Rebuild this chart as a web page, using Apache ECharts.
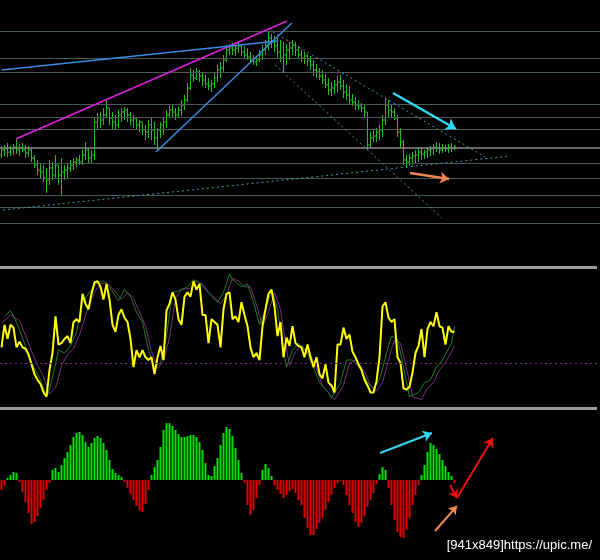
<!DOCTYPE html>
<html><head><meta charset="utf-8">
<script src="https://cdn.jsdelivr.net/npm/echarts@6/dist/echarts.min.js"></script>
<style>html,body{margin:0;padding:0;background:#000}#c{width:600px;height:560px}</style>
</head><body><div id="c"></div>
<script>
// ---------- price bars (arbitrary price points) ----------
const opens=[105,110,112,108,111,113,110,112,110,107,
110,102,95,90,88,82,80,92,85,95,
85,88,90,92,95,98,100,98,105,110,
102,105,138,142,140,145,152,142,138,135,
145,148,150,145,140,142,135,138,130,128,
135,130,122,130,135,138,145,150,148,145,
150,155,160,172,185,182,188,184,180,176,
174,176,182,190,192,200,210,212,210,212,
214,208,205,203,200,198,200,205,210,215,
222,218,214,208,202,205,210,212,215,210,
205,202,204,200,195,190,188,184,180,175,
170,172,175,178,174,168,165,160,158,155,
154,152,148,115,122,124,128,130,140,155,
150,148,142,128,118,100,98,102,104,105,
108,106,108,110,111,113,112,110,112,111,
113,112];
const highs=[114,115,117,114,116,120,116,117,115,114,
112,105,100,97,95,92,100,98,105,95,
102,95,97,100,102,103,105,110,118,112,
110,142,147,148,152,160,152,148,145,150,
152,153,152,148,145,143,140,138,135,140,
143,138,132,138,142,150,154,155,152,153,
160,165,177,192,190,192,190,188,185,182,
180,188,195,198,205,215,216,217,215,218,
216,214,212,208,205,204,210,215,220,229,
226,224,222,220,218,216,218,220,218,214,
210,208,206,204,200,196,192,190,186,182,
178,180,184,185,180,176,174,166,163,160,
157,156,148,128,130,132,135,145,162,160,
155,152,145,132,120,105,106,108,110,111,
113,110,113,114,116,118,117,116,115,116,
117,115];
const lows=[102,104,103,104,105,106,104,108,102,103,
98,92,85,82,78,67,75,80,82,75,
65,80,82,88,90,93,95,95,100,97,
97,100,130,132,135,142,135,130,130,132,
138,140,138,135,132,130,128,125,120,122,
120,115,110,122,125,132,142,142,140,143,
144,150,158,170,178,180,178,174,172,170,
168,172,178,182,188,198,205,205,204,207,
204,202,200,197,195,194,198,200,205,210,
212,208,202,198,188,195,200,205,204,202,
198,196,194,190,184,182,180,176,172,165,
164,166,168,170,162,160,155,154,150,150,
148,143,110,112,118,118,120,123,135,142,
142,140,123,112,95,92,94,95,97,98,
100,101,102,104,105,108,106,107,108,107,
108,110];
const closes=[110,112,108,111,113,110,112,110,107,110,
102,95,90,88,82,80,92,85,95,85,
88,90,92,95,98,100,98,105,110,102,
105,138,142,140,145,152,142,138,135,145,
148,150,145,140,142,135,138,130,128,135,
130,122,130,135,138,145,150,148,145,150,
155,160,172,185,182,188,184,180,176,174,
176,182,190,192,200,210,212,210,212,214,
208,205,203,200,198,200,205,210,215,222,
218,214,208,202,205,210,212,215,210,205,
202,204,200,195,190,188,184,180,175,170,
172,175,178,174,168,165,160,158,155,154,
152,148,115,122,124,128,130,140,155,150,
148,142,128,118,100,98,102,104,105,108,
106,108,110,111,113,112,110,112,111,113,
112,114];

// horizontal levels (price)
const levels=[229,202,188,156,143,131,112,97,82,65,53,37];
const currentLevel=112;

// trend lines [barIndex, price]
const lineMagenta=[[4.8,121],[95.2,239]];
const lineBlueFlat=[[0,190],[92.2,219]];
const lineBlueSteep=[[51.5,108],[96.8,237]];
const dotLong=[[0.5,50],[169.5,104]];
const dotUpper=[[90.5,228],[161.2,103]];
const dotLower=[[91.2,195],[146.8,42]];
const arrowCyanPrice=[[130.5,167],[151.5,131]];
const arrowOrangePrice=[[136.2,87],[149.2,81]];

// ---------- oscillator ----------
const yellow=[43,59,49,59,57,43,47,43,42,38,
31,24,20,17,11,8,27,39,65,45,
46,49,51,46,61,63,61,81,74,70,
81,89,90,86,77,88,77,59,54,66,
70,64,61,49,29,41,36,41,36,34,
36,24,36,44,34,69,74,82,77,63,
59,79,82,79,90,84,88,66,66,46,
63,61,59,43,70,81,82,63,65,61,
75,66,58,43,36,39,34,58,70,81,
84,72,51,61,36,50,44,58,46,44,
43,36,45,36,29,36,24,21,31,18,
16,11,45,45,57,49,52,40,36,31,
27,20,16,11,11,19,36,72,75,64,
61,63,36,32,14,13,15,25,39,44,
56,36,56,61,58,68,58,57,45,58,
54,54];
const greenSig=[[1,65],[3,69],[5,61],[8,44],[10,32],[13,20],[15,8],[16,13],[18,31],[19,41],[21,39],[23,44],[25,54],[27,75],[30,84],[32,89],[34,90],[36,86],[39,76],[41,84],[43,79],[45,68],[47,61],[49,41],[51,29],[53,32],[55,51],[57,82],[59,83],[62,86],[64,91],[66,89],[68,84],[72,75],[74,82],[76,95],[77,91],[80,86],[82,88],[84,75],[86,59],[88,70],[90,84],[92,70],[94,41],[95,29],[97,41],[99,46],[102,39],[104,29],[106,18],[109,11],[110,7],[113,18],[115,34],[117,34],[120,27],[122,18],[124,14],[126,20],[129,44],[130,51],[132,49],[134,29],[136,8],[139,11],[141,18],[143,20],[145,29],[147,34],[150,46],[151,58]];
const purpleSig=[[0,60],[3,66],[6,62],[9,46],[11,35],[14,22],[16,10],[18,14],[20,30],[22,38],[24,42],[26,52],[29,72],[31,82],[33,88],[35,89],[37,85],[40,77],[42,82],[44,78],[46,68],[48,58],[50,40],[52,28],[54,33],[56,50],[58,78],[60,84],[63,85],[65,90],[67,88],[69,82],[73,74],[75,80],[77,92],[79,90],[81,86],[83,86],[85,73],[87,58],[89,68],[91,82],[93,70],[95,42],[96,30],[98,40],[100,44],[103,38],[105,28],[107,16],[110,8],[111,6],[114,16],[116,32],[118,34],[121,26],[123,16],[125,12],[127,18],[130,42],[131,48],[133,46],[135,28],[137,8],[140,6],[142,14],[144,18],[146,27],[148,32],[151,44]];
const oscMid=32;

// ---------- histogram ----------
const hist=[-10,-6,2,5,8,7,-2,-12,-22,-33,
-44,-42,-36,-28,-20,-10,-3,10,12,8,
15,22,28,35,43,47,48,45,38,33,
37,42,44,42,37,30,20,11,7,5,
3,-2,-8,-14,-20,-26,-31,-32,-24,-10,
5,13,20,33,50,57,57,54,50,46,
43,43,44,45,45,43,38,30,17,5,
4,14,22,35,47,53,51,44,32,20,
7,-3,-25,-35,-30,-18,-5,10,16,12,
4,-5,-10,-14,-18,-15,-11,-9,-13,-20,
-25,-38,-48,-55,-55,-49,-43,-38,-30,-22,
-15,-8,-3,-1,-5,-15,-25,-33,-42,-47,
-43,-36,-27,-20,-13,-4,6,13,10,-8,
-25,-40,-52,-57,-58,-50,-38,-25,-15,-5,
5,15,28,37,35,31,26,20,14,8,
4,-3];
const arrowCyanHist=[[126.2,27],[143.5,47]];
const arrowRedDown=[[149.5,-5],[151.8,-18]];
const arrowRedUp=[[151.8,-18],[163.8,42]];
const arrowOrangeHist=[[144.5,-51],[151.8,-26]];

// ---------- chart ----------
function seg(p,color,width,type,arrow,size){
  return [{coord:p[0],symbol:'none',lineStyle:{color:color,width:width,type:type}},
          {coord:p[1],symbol:arrow?'arrow':'none',symbolSize:size||9,lineStyle:{color:color,width:width,type:type},itemStyle:{color:color}}];
}
const ml=(data)=>({silent:true,symbol:['none','none'],label:{show:false},emphasis:{disabled:true},animation:false,data:data});

const chart=echarts.init(document.getElementById('c'));
const grids=[{left:0,right:0,top:0,height:260},{left:0,right:3,top:267,height:141},{left:0,right:0,top:410,height:150}];
const ohlc=opens.map((o,i)=>[i,o,highs[i],lows[i],closes[i]]);
const barColor='#22bb22';

chart.setOption({
  backgroundColor:'#000',
  animation:false,
  title:{text:'[941x849]https://upic.me/',right:3,bottom:3,textStyle:{color:'#fff',fontSize:13,fontWeight:'normal',fontFamily:'Liberation Sans'}},
  grid:grids,
  xAxis:[{type:'value',gridIndex:0,min:-0.5,max:199.5,show:false},
         {type:'value',gridIndex:1,min:-0.5,max:198.5,show:false},
         {type:'value',gridIndex:2,min:-0.5,max:199.5,show:false}],
  yAxis:[{type:'value',gridIndex:0,min:0,max:260,show:false},
         {type:'value',gridIndex:1,min:0,max:100,show:false},
         {type:'value',gridIndex:2,min:-80,max:70,show:false}],
  series:[
    {type:'line',xAxisIndex:0,yAxisIndex:0,data:[],z:1,
     markLine:ml(levels.map(v=>({yAxis:v,lineStyle:{color:v===currentLevel?'#8a8a8a':'#4a5a57',width:v===currentLevel?1.5:1,type:'solid'}})))},
    {type:'custom',xAxisIndex:0,yAxisIndex:0,z:3,data:ohlc,encode:{x:0,y:[1,2,3,4]},
     renderItem:function(params,api){
       const x=api.value(0);
       const pH=api.coord([x,api.value(2)]),pL=api.coord([x,api.value(3)]);
       const pO=api.coord([x,api.value(1)]),pC=api.coord([x,api.value(4)]);
       const st={stroke:barColor,lineWidth:1};
       return {type:'group',children:[
         {type:'line',shape:{x1:pH[0],y1:pH[1],x2:pL[0],y2:pL[1]},style:st},
         {type:'line',shape:{x1:pO[0]-1.5,y1:pO[1],x2:pO[0],y2:pO[1]},style:st},
         {type:'line',shape:{x1:pC[0],y1:pC[1],x2:pC[0]+1.5,y2:pC[1]},style:st}
       ]};
     }},
    {type:'line',xAxisIndex:0,yAxisIndex:0,data:[],z:5,
     markLine:ml([
       seg(lineMagenta,'#e020e0',1.5,'solid'),
       seg(lineBlueFlat,'#3a8be0',1.5,'solid'),
       seg(lineBlueSteep,'#3a8be0',1.5,'solid'),
       seg(dotLong,'#4a9cae',1,[2,3]),
       seg(dotUpper,'#4a9cae',1,[2,3]),
       seg(dotLower,'#4a9cae',1,[2,3]),
       seg(arrowCyanPrice,'#30d8f0',2.5,'solid',true,10),
       seg(arrowOrangePrice,'#f08850',2.5,'solid',true,9)
     ])},
    {type:'line',xAxisIndex:1,yAxisIndex:1,data:[],z:1,
     markLine:ml([{yAxis:100,lineStyle:{color:'#9c9c9c',width:3,type:'solid'}},
                  {yAxis:0,lineStyle:{color:'#9c9c9c',width:3,type:'solid'}},
                  {yAxis:oscMid,lineStyle:{color:'#7a2a8a',width:1,type:[2,3]}}])},
    {type:'line',xAxisIndex:1,yAxisIndex:1,z:2,data:purpleSig,showSymbol:false,lineStyle:{color:'#7a307a',width:1}},
    {type:'line',xAxisIndex:1,yAxisIndex:1,z:3,data:greenSig,showSymbol:false,lineStyle:{color:'#1f7f1f',width:1}},
    {type:'line',xAxisIndex:1,yAxisIndex:1,z:4,data:yellow.map((v,i)=>[i,v]),showSymbol:false,lineStyle:{color:'#ffff00',width:2}},
    {type:'bar',xAxisIndex:2,yAxisIndex:2,z:2,barWidth:2,data:hist.map((v,i)=>[i,v]),
     itemStyle:{color:p=>p.value[1]>=0?'#00e000':'#e00000'}},
    {type:'line',xAxisIndex:2,yAxisIndex:2,data:[],z:5,
     markLine:ml([
       seg(arrowCyanHist,'#30d8f0',2,'solid',true,9),
       seg(arrowRedDown,'#ee1111',2,'solid',true,8),
       seg(arrowRedUp,'#ee1111',2,'solid',true,9),
       seg(arrowOrangeHist,'#f08850',2,'solid',true,8)
     ])}
  ]
});
</script></body></html>
